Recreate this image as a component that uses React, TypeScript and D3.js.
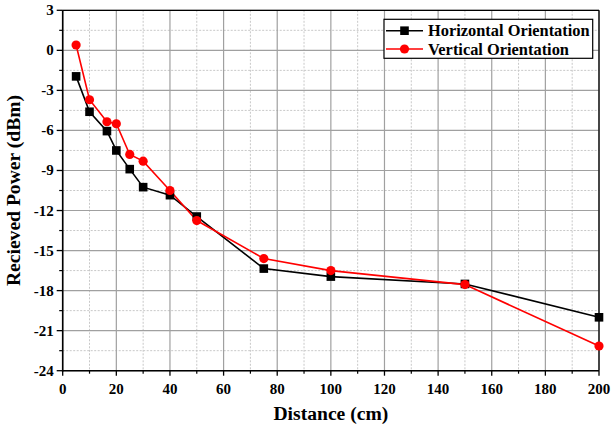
import React from "react";
import * as d3 from "d3";

const distances = [5, 10, 16.5, 20, 25, 30, 40, 50, 75, 100, 150, 200];
const horizontalPower = [-1.95, -4.6, -6.05, -7.5, -8.9, -10.25, -10.85, -12.45, -16.35, -16.95, -17.5, -20.0];
const verticalPower = [0.4, -3.7, -5.35, -5.5, -7.8, -8.3, -10.5, -12.75, -15.6, -16.5, -17.55, -22.15];
const xTicks = [0, 20, 40, 60, 80, 100, 120, 140, 160, 180, 200];
const yTicks = [3, 0, -3, -6, -9, -12, -15, -18, -21, -24];
const xMinor = d3.range(0, 201, 10);
const yMinor = d3.range(-24, 3.01, 1.5);
const seriesNames = ["Horizontal Orientation", "Vertical Orientation"];

const W = 611;
const H = 428;
const L = 62.7, R = 599, T = 10.3, B = 370.7;
const font = "Liberation Serif, Times New Roman, DejaVu Serif, serif";

export default function App() {
  const x = d3.scaleLinear().domain([0, 200]).range([L, R]);
  const y = d3.scaleLinear().domain([-24, 3]).range([B, T]);
  const line = d3.line<number>().x((_, i) => x(distances[i])).y((d) => y(d));

  return (
    <svg width={W} height={H} style={{ position: "absolute", left: 0, top: 0, background: "#fff", fontFamily: font }}>
      <rect x={0} y={0} width={W} height={H} fill="#fff" />
      {/* minor grid */}
      {xMinor.filter((v) => v % 20 !== 0).map((v) => (
        <line key={"xm" + v} x1={x(v)} x2={x(v)} y1={T} y2={B} stroke="#c8c8c8" strokeWidth={1} strokeDasharray="2,1.5" />
      ))}
      {yMinor.filter((v) => Math.abs(v % 3) > 0.01).map((v) => (
        <line key={"ym" + v} x1={L} x2={R} y1={y(v)} y2={y(v)} stroke="#c8c8c8" strokeWidth={1} strokeDasharray="2,1.5" />
      ))}
      {/* major grid */}
      {xTicks.map((v) => (
        <line key={"xg" + v} x1={x(v)} x2={x(v)} y1={T} y2={B} stroke="#a0a0a0" strokeWidth={1.2} />
      ))}
      {yTicks.map((v) => (
        <line key={"yg" + v} x1={L} x2={R} y1={y(v)} y2={y(v)} stroke="#a0a0a0" strokeWidth={1.2} />
      ))}
      {/* frame */}
      <line x1={L} x2={R} y1={T} y2={T} stroke="#000" strokeWidth={1.3} />
      <line x1={R} x2={R} y1={T} y2={B} stroke="#000" strokeWidth={1.3} />
      <line x1={L} x2={L} y1={T} y2={B + 0.8} stroke="#000" strokeWidth={1.6} />
      <line x1={L - 0.8} x2={R} y1={B} y2={B} stroke="#000" strokeWidth={1.6} />
      {/* ticks */}
      {xTicks.map((v) => (
        <line key={"xt" + v} x1={x(v)} x2={x(v)} y1={B} y2={B + 5} stroke="#000" strokeWidth={1.3} />
      ))}
      {xMinor.filter((v) => v % 20 !== 0).map((v) => (
        <line key={"xmt" + v} x1={x(v)} x2={x(v)} y1={B} y2={B + 3} stroke="#000" strokeWidth={1.2} />
      ))}
      {yTicks.map((v) => (
        <line key={"yt" + v} x1={L - 6} x2={L} y1={y(v)} y2={y(v)} stroke="#000" strokeWidth={1.3} />
      ))}
      {yMinor.filter((v) => Math.abs(v % 3) > 0.01).map((v) => (
        <line key={"ymt" + v} x1={L - 3.5} x2={L} y1={y(v)} y2={y(v)} stroke="#000" strokeWidth={1.2} />
      ))}
      {/* tick labels */}
      {xTicks.map((v) => (
        <text key={"xl" + v} x={x(v)} y={B + 23} textAnchor="middle" fontSize={15} fontWeight="bold">{v}</text>
      ))}
      {yTicks.map((v) => (
        <text key={"yl" + v} x={L - 9} y={y(v) + 5} textAnchor="end" fontSize={15} fontWeight="bold">{v}</text>
      ))}
      {/* axis titles */}
      <text x={(L + R) / 2} y={420} textAnchor="middle" fontSize={19.6} fontWeight="bold">Distance (cm)</text>
      <text transform={`translate(20,${(T + B) / 2}) rotate(-90)`} textAnchor="middle" fontSize={19.6} fontWeight="bold">Recieved Power (dBm)</text>
      {/* series */}
      <path d={line(horizontalPower) || ""} fill="none" stroke="#000" strokeWidth={1.6} />
      <path d={line(verticalPower) || ""} fill="none" stroke="#ff0000" strokeWidth={1.6} />
      {horizontalPower.map((v, i) => (
        <rect key={"hs" + i} x={x(distances[i]) - 4.3} y={y(v) - 4.3} width={8.6} height={8.6} fill="#000" />
      ))}
      {verticalPower.map((v, i) => (
        <circle key={"vc" + i} cx={x(distances[i])} cy={y(v)} r={4.6} fill="#ff0000" />
      ))}
      {/* legend */}
      <rect x={384} y={19.3} width={208.7} height={39} fill="#fff" stroke="#000" strokeWidth={1.2} />
      <line x1={386} x2={423} y1={30.7} y2={30.7} stroke="#000" strokeWidth={1.6} />
      <rect x={404.5 - 4.3} y={30.7 - 4.3} width={8.6} height={8.6} fill="#000" />
      <text x={428} y={36} fontSize={16.4} fontWeight="bold">{seriesNames[0]}</text>
      <line x1={386} x2={423} y1={49} y2={49} stroke="#ff0000" strokeWidth={1.6} />
      <circle cx={404.5} cy={49} r={4.6} fill="#ff0000" />
      <text x={428} y={54.5} fontSize={16.4} fontWeight="bold">{seriesNames[1]}</text>
    </svg>
  );
}
